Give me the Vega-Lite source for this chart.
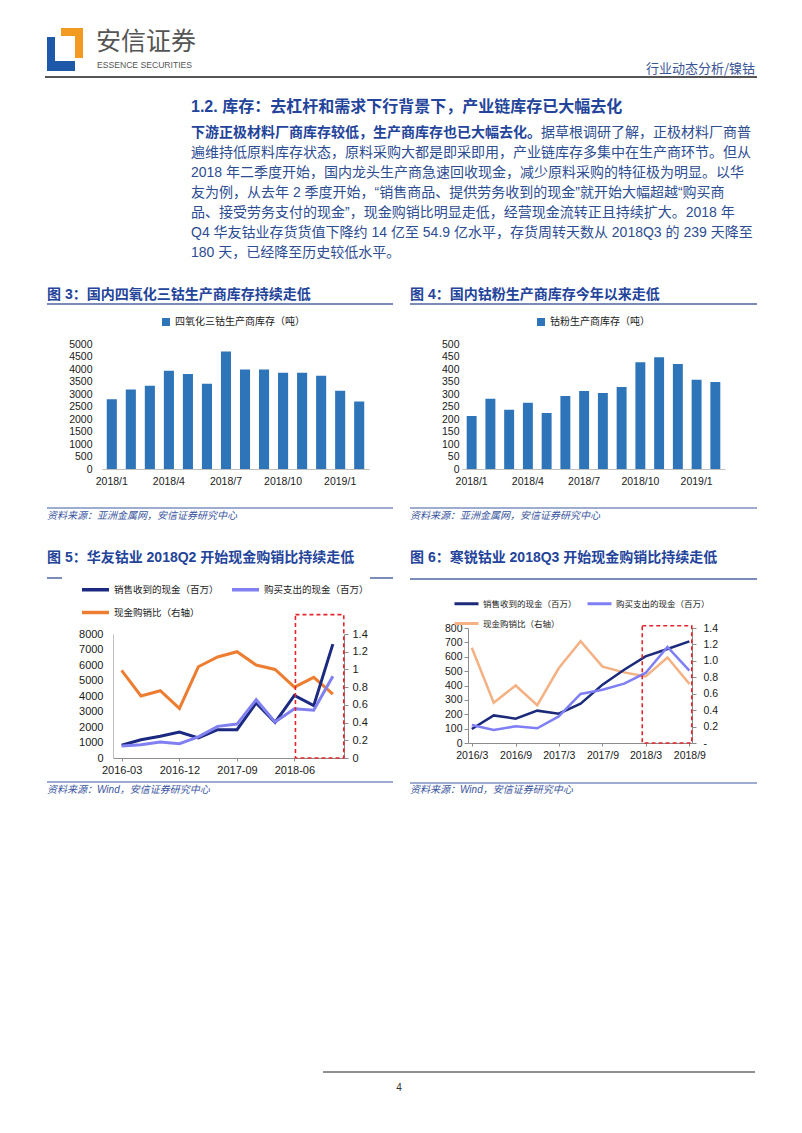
{
  "$schema": "https://vega.github.io/schema/vega-lite/v6.json",
  "width": 802,
  "height": 1133,
  "padding": 0,
  "autosize": {"type": "none"},
  "background": "white",
  "config": {
    "view": {"stroke": null},
    "font": "Liberation Sans, Noto Sans CJK SC",
    "axis": {"grid": false, "labelFont": "Liberation Sans", "labelColor": "#1a1a1a", "labelFontSize": 10.5, "domainColor": "#a6a6a6", "tickColor": "#a6a6a6"},
    "legend": {"labelFont": "Noto Sans CJK SC", "labelColor": "#1a1a1a", "padding": 0}
  },
  "layer": [
    {"data": {"values": [{}]}, "mark": {"type": "rect", "color": "#f39a22"}, "encoding": {"x": {"value": 61}, "x2": {"value": 83}, "y": {"value": 28}, "y2": {"value": 36}}},
    {"data": {"values": [{}]}, "mark": {"type": "rect", "color": "#f39a22"}, "encoding": {"x": {"value": 75}, "x2": {"value": 83}, "y": {"value": 28}, "y2": {"value": 58}}},
    {"data": {"values": [{}]}, "mark": {"type": "rect", "color": "#1d59a8"}, "encoding": {"x": {"value": 47}, "x2": {"value": 55}, "y": {"value": 37}, "y2": {"value": 71}}},
    {"data": {"values": [{}]}, "mark": {"type": "rect", "color": "#1d59a8"}, "encoding": {"x": {"value": 47}, "x2": {"value": 75}, "y": {"value": 61}, "y2": {"value": 71}}},
    {"data": {"values": [{}]}, "mark": {"type": "text", "align": "left", "baseline": "middle", "font": "Noto Sans CJK SC", "fontSize": 25, "color": "#555555"}, "encoding": {"x": {"value": 96}, "y": {"value": 42}, "text": {"value": "安信证券"}}},
    {"data": {"values": [{}]}, "mark": {"type": "text", "align": "left", "baseline": "middle", "font": "Liberation Sans", "fontSize": 8.6, "color": "#555555"}, "encoding": {"x": {"value": 97}, "y": {"value": 65}, "text": {"value": "ESSENCE SECURITIES"}}},
    {"data": {"values": [{}]}, "mark": {"type": "text", "align": "right", "baseline": "middle", "font": "Noto Sans CJK SC", "fontSize": 13, "color": "#3a5596"}, "encoding": {"x": {"value": 755}, "y": {"value": 69}, "text": {"value": "行业动态分析/镍钴"}}},
    {"data": {"values": [{}]}, "mark": {"type": "rule", "color": "#555555", "strokeWidth": 2}, "encoding": {"x": {"value": 45}, "x2": {"value": 757}, "y": {"value": 77}}},
    {"data": {"values": [{}]}, "mark": {"type": "text", "align": "left", "baseline": "middle", "fontSize": 16, "fontWeight": "bold", "color": "#23449a"}, "encoding": {"x": {"value": 191}, "y": {"value": 107}, "text": {"value": "1.2. 库存：去杠杆和需求下行背景下，产业链库存已大幅去化"}}},
    {
      "data": {"values": [
        {"line": 0, "part": "lead", "text": "下游正极材料厂商库存较低，生产商库存也已大幅去化。"},
        {"line": 0, "part": "tail", "text": "据草根调研了解，正极材料厂商普"},
        {"line": 1, "part": "body", "text": "遍维持低原料库存状态，原料采购大都是即采即用，产业链库存多集中在生产商环节。但从"},
        {"line": 2, "part": "body", "text": "2018 年二季度开始，国内龙头生产商急速回收现金，减少原料采购的特征极为明显。以华"},
        {"line": 3, "part": "body", "text": "友为例，从去年 2 季度开始，“销售商品、提供劳务收到的现金”就开始大幅超越“购买商"},
        {"line": 4, "part": "body", "text": "品、接受劳务支付的现金”，现金购销比明显走低，经营现金流转正且持续扩大。2018 年"},
        {"line": 5, "part": "body", "text": "Q4 华友钴业存货货值下降约 14 亿至 54.9 亿水平，存货周转天数从 2018Q3 的 239 天降至"},
        {"line": 6, "part": "body", "text": "180 天，已经降至历史较低水平。"}
      ]},
      "encoding": {
        "y": {"field": "line", "type": "ordinal", "axis": null, "scale": {"type": "point", "range": [133, 253], "padding": 0}},
        "text": {"field": "text"}
      },
      "layer": [
        {"transform": [{"filter": "datum.part == 'lead'"}], "mark": {"type": "text", "align": "left", "baseline": "middle", "fontSize": 14, "fontWeight": "bold", "color": "#23449a", "x": 191}},
        {"transform": [{"filter": "datum.part == 'tail'"}], "mark": {"type": "text", "align": "left", "baseline": "middle", "fontSize": 14, "color": "#2d4d92", "x": 541}},
        {"transform": [{"filter": "datum.part == 'body'"}], "mark": {"type": "text", "align": "left", "baseline": "middle", "fontSize": 14, "color": "#2d4d92", "x": 191}}
      ]
    },
    {"data": {"values": [{}]}, "mark": {"type": "text", "align": "left", "baseline": "middle", "fontSize": 14, "fontWeight": "bold", "color": "#23449a"}, "encoding": {"x": {"value": 47}, "y": {"value": 295}, "text": {"value": "图 3：国内四氧化三钴生产商库存持续走低"}}},
    {"data": {"values": [{}]}, "mark": {"type": "rule", "color": "#4f64a3", "strokeWidth": 1.5}, "encoding": {"x": {"value": 47}, "x2": {"value": 393}, "y": {"value": 304}}},
    {"data": {"values": [{}]}, "mark": {"type": "text", "align": "left", "baseline": "middle", "fontSize": 14, "fontWeight": "bold", "color": "#23449a"}, "encoding": {"x": {"value": 410}, "y": {"value": 295}, "text": {"value": "图 4：国内钴粉生产商库存今年以来走低"}}},
    {"data": {"values": [{}]}, "mark": {"type": "rule", "color": "#4f64a3", "strokeWidth": 1.5}, "encoding": {"x": {"value": 410}, "x2": {"value": 757}, "y": {"value": 304}}},
    {"data": {"values": [{}]}, "mark": {"type": "rule", "color": "#3f5aa3", "strokeWidth": 1.2}, "encoding": {"x": {"value": 47}, "x2": {"value": 393}, "y": {"value": 508}}},
    {"data": {"values": [{}]}, "mark": {"type": "rule", "color": "#3f5aa3", "strokeWidth": 1.2}, "encoding": {"x": {"value": 410}, "x2": {"value": 757}, "y": {"value": 508}}},
    {"data": {"values": [{}]}, "mark": {"type": "text", "align": "left", "baseline": "middle", "font": "Noto Sans CJK SC", "fontSize": 10, "fontStyle": "italic", "color": "#3a55a0"}, "encoding": {"x": {"value": 47}, "y": {"value": 516}, "text": {"value": "资料来源：亚洲金属网，安信证券研究中心"}}},
    {"data": {"values": [{}]}, "mark": {"type": "text", "align": "left", "baseline": "middle", "font": "Noto Sans CJK SC", "fontSize": 10, "fontStyle": "italic", "color": "#3a55a0"}, "encoding": {"x": {"value": 410}, "y": {"value": 516}, "text": {"value": "资料来源：亚洲金属网，安信证券研究中心"}}},
    {"data": {"values": [{}]}, "mark": {"type": "text", "align": "left", "baseline": "middle", "fontSize": 14, "fontWeight": "bold", "color": "#23449a"}, "encoding": {"x": {"value": 47}, "y": {"value": 558}, "text": {"value": "图 5：华友钴业 2018Q2 开始现金购销比持续走低"}}},
    {"data": {"values": [{}]}, "mark": {"type": "text", "align": "left", "baseline": "middle", "fontSize": 14, "fontWeight": "bold", "color": "#23449a"}, "encoding": {"x": {"value": 410}, "y": {"value": 558}, "text": {"value": "图 6：寒锐钴业 2018Q3 开始现金购销比持续走低"}}},
    {"data": {"values": [{}]}, "mark": {"type": "rule", "color": "#4f64a3", "strokeWidth": 1.5}, "encoding": {"x": {"value": 47}, "x2": {"value": 62}, "y": {"value": 578}}},
    {"data": {"values": [{}]}, "mark": {"type": "rule", "color": "#4f64a3", "strokeWidth": 1.5}, "encoding": {"x": {"value": 370}, "x2": {"value": 393}, "y": {"value": 578}}},
    {"data": {"values": [{}]}, "mark": {"type": "rule", "color": "#4f64a3", "strokeWidth": 1.5}, "encoding": {"x": {"value": 410}, "x2": {"value": 757}, "y": {"value": 579}}},
    {"data": {"values": [{}]}, "mark": {"type": "rule", "color": "#3f5aa3", "strokeWidth": 1.2}, "encoding": {"x": {"value": 47}, "x2": {"value": 393}, "y": {"value": 782}}},
    {"data": {"values": [{}]}, "mark": {"type": "rule", "color": "#3f5aa3", "strokeWidth": 1.2}, "encoding": {"x": {"value": 410}, "x2": {"value": 757}, "y": {"value": 783}}},
    {"data": {"values": [{}]}, "mark": {"type": "text", "align": "left", "baseline": "middle", "fontSize": 10, "fontStyle": "italic", "color": "#3a55a0"}, "encoding": {"x": {"value": 47}, "y": {"value": 790}, "text": {"value": "资料来源：Wind，安信证券研究中心"}}},
    {"data": {"values": [{}]}, "mark": {"type": "text", "align": "left", "baseline": "middle", "fontSize": 10, "fontStyle": "italic", "color": "#3a55a0"}, "encoding": {"x": {"value": 410}, "y": {"value": 790}, "text": {"value": "资料来源：Wind，安信证券研究中心"}}},
    {"data": {"values": [{}]}, "mark": {"type": "rule", "color": "#222222", "strokeWidth": 1}, "encoding": {"x": {"value": 323}, "x2": {"value": 755}, "y": {"value": 1072}}},
    {"data": {"values": [{}]}, "mark": {"type": "text", "align": "center", "baseline": "middle", "fontSize": 10, "color": "#333333"}, "encoding": {"x": {"value": 399}, "y": {"value": 1088}, "text": {"value": "4"}}},
    {
      "data": {"values": [
        {"month": "2018/1", "series": "四氧化三钴生产商库存（吨）", "value": 2790},
        {"month": "2018/2", "series": "四氧化三钴生产商库存（吨）", "value": 3180},
        {"month": "2018/3", "series": "四氧化三钴生产商库存（吨）", "value": 3330},
        {"month": "2018/4", "series": "四氧化三钴生产商库存（吨）", "value": 3930},
        {"month": "2018/5", "series": "四氧化三钴生产商库存（吨）", "value": 3800},
        {"month": "2018/6", "series": "四氧化三钴生产商库存（吨）", "value": 3410},
        {"month": "2018/7", "series": "四氧化三钴生产商库存（吨）", "value": 4700},
        {"month": "2018/8", "series": "四氧化三钴生产商库存（吨）", "value": 3980},
        {"month": "2018/9", "series": "四氧化三钴生产商库存（吨）", "value": 3980},
        {"month": "2018/10", "series": "四氧化三钴生产商库存（吨）", "value": 3850},
        {"month": "2018/11", "series": "四氧化三钴生产商库存（吨）", "value": 3850},
        {"month": "2018/12", "series": "四氧化三钴生产商库存（吨）", "value": 3730},
        {"month": "2019/1", "series": "四氧化三钴生产商库存（吨）", "value": 3130},
        {"month": "2019/2", "series": "四氧化三钴生产商库存（吨）", "value": 2700}
      ]},
      "mark": {"type": "bar"},
      "encoding": {
        "x": {"field": "month", "type": "nominal", "sort": null, "title": null, "scale": {"range": [102, 369], "paddingInner": 0.47, "paddingOuter": 0.25}, "axis": {"orient": "bottom", "offset": -664, "values": ["2018/1", "2018/4", "2018/7", "2018/10", "2019/1"], "labelAngle": 0, "ticks": false, "labelPadding": 7, "domainColor": "#bfbfbf"}},
        "y": {"field": "value", "type": "quantitative", "title": null, "scale": {"domain": [0, 5000], "nice": false, "range": [469, 344]}, "axis": {"orient": "left", "offset": -102, "values": [0, 500, 1000, 1500, 2000, 2500, 3000, 3500, 4000, 4500, 5000], "format": "d", "domain": false, "ticks": false, "labelPadding": 10}},
        "color": {"field": "series", "type": "nominal", "scale": {"range": ["#2e74b8"]}, "legend": {"orient": "none", "legendX": 161, "legendY": 317, "title": null, "symbolType": "square", "symbolSize": 64, "labelFontSize": 10}}
      }
    },
    {
      "data": {"values": [
        {"month": "2018/1", "series": "钴粉生产商库存（吨）", "value": 212},
        {"month": "2018/2", "series": "钴粉生产商库存（吨）", "value": 281},
        {"month": "2018/3", "series": "钴粉生产商库存（吨）", "value": 237},
        {"month": "2018/4", "series": "钴粉生产商库存（吨）", "value": 265},
        {"month": "2018/5", "series": "钴粉生产商库存（吨）", "value": 224},
        {"month": "2018/6", "series": "钴粉生产商库存（吨）", "value": 292},
        {"month": "2018/7", "series": "钴粉生产商库存（吨）", "value": 312},
        {"month": "2018/8", "series": "钴粉生产商库存（吨）", "value": 304},
        {"month": "2018/9", "series": "钴粉生产商库存（吨）", "value": 328},
        {"month": "2018/10", "series": "钴粉生产商库存（吨）", "value": 427},
        {"month": "2018/11", "series": "钴粉生产商库存（吨）", "value": 447},
        {"month": "2018/12", "series": "钴粉生产商库存（吨）", "value": 420},
        {"month": "2019/1", "series": "钴粉生产商库存（吨）", "value": 357},
        {"month": "2019/2", "series": "钴粉生产商库存（吨）", "value": 348}
      ]},
      "mark": {"type": "bar"},
      "encoding": {
        "x": {"field": "month", "type": "nominal", "sort": null, "title": null, "scale": {"range": [462, 725], "paddingInner": 0.47, "paddingOuter": 0.25}, "axis": {"orient": "bottom", "offset": -664, "values": ["2018/1", "2018/4", "2018/7", "2018/10", "2019/1"], "labelAngle": 0, "ticks": false, "labelPadding": 7, "domainColor": "#bfbfbf"}},
        "y": {"field": "value", "type": "quantitative", "title": null, "scale": {"domain": [0, 500], "nice": false, "range": [469, 344]}, "axis": {"orient": "left", "offset": -462, "values": [0, 50, 100, 150, 200, 250, 300, 350, 400, 450, 500], "format": "d", "domain": false, "ticks": false, "labelPadding": 3}},
        "color": {"field": "series", "type": "nominal", "scale": {"range": ["#2e74b8"]}, "legend": {"orient": "none", "legendX": 536, "legendY": 317, "title": null, "symbolType": "square", "symbolSize": 64, "labelFontSize": 10}}
      }
    },
    {
      "data": {"values": [
        {"date": "2016-03-15", "series": "销售收到的现金（百万）", "value": 820},
        {"date": "2016-06-15", "series": "销售收到的现金（百万）", "value": 1180},
        {"date": "2016-09-15", "series": "销售收到的现金（百万）", "value": 1400},
        {"date": "2016-12-15", "series": "销售收到的现金（百万）", "value": 1680},
        {"date": "2017-03-15", "series": "销售收到的现金（百万）", "value": 1290},
        {"date": "2017-06-15", "series": "销售收到的现金（百万）", "value": 1830},
        {"date": "2017-09-15", "series": "销售收到的现金（百万）", "value": 1830},
        {"date": "2017-12-15", "series": "销售收到的现金（百万）", "value": 3550},
        {"date": "2018-03-15", "series": "销售收到的现金（百万）", "value": 2300},
        {"date": "2018-06-15", "series": "销售收到的现金（百万）", "value": 4040},
        {"date": "2018-09-15", "series": "销售收到的现金（百万）", "value": 3380},
        {"date": "2018-12-15", "series": "销售收到的现金（百万）", "value": 7350},
        {"date": "2016-03-15", "series": "购买支出的现金（百万）", "value": 780},
        {"date": "2016-06-15", "series": "购买支出的现金（百万）", "value": 860},
        {"date": "2016-09-15", "series": "购买支出的现金（百万）", "value": 1030},
        {"date": "2016-12-15", "series": "购买支出的现金（百万）", "value": 920},
        {"date": "2017-03-15", "series": "购买支出的现金（百万）", "value": 1360},
        {"date": "2017-06-15", "series": "购买支出的现金（百万）", "value": 2040},
        {"date": "2017-09-15", "series": "购买支出的现金（百万）", "value": 2190},
        {"date": "2017-12-15", "series": "购买支出的现金（百万）", "value": 3760},
        {"date": "2018-03-15", "series": "购买支出的现金（百万）", "value": 2320},
        {"date": "2018-06-15", "series": "购买支出的现金（百万）", "value": 3180},
        {"date": "2018-09-15", "series": "购买支出的现金（百万）", "value": 3080},
        {"date": "2018-12-15", "series": "购买支出的现金（百万）", "value": 5270},
        {"date": "2016-03-15", "series": "现金购销比（右轴）", "value": 0.99},
        {"date": "2016-06-15", "series": "现金购销比（右轴）", "value": 0.70},
        {"date": "2016-09-15", "series": "现金购销比（右轴）", "value": 0.76},
        {"date": "2016-12-15", "series": "现金购销比（右轴）", "value": 0.56},
        {"date": "2017-03-15", "series": "现金购销比（右轴）", "value": 1.03},
        {"date": "2017-06-15", "series": "现金购销比（右轴）", "value": 1.14},
        {"date": "2017-09-15", "series": "现金购销比（右轴）", "value": 1.20},
        {"date": "2017-12-15", "series": "现金购销比（右轴）", "value": 1.05},
        {"date": "2018-03-15", "series": "现金购销比（右轴）", "value": 1.00},
        {"date": "2018-06-15", "series": "现金购销比（右轴）", "value": 0.80},
        {"date": "2018-09-15", "series": "现金购销比（右轴）", "value": 0.91},
        {"date": "2018-12-15", "series": "现金购销比（右轴）", "value": 0.72}
      ]},
      "encoding": {
        "x": {"field": "date", "type": "temporal", "title": null,
          "scale": {"domain": [{"year": 2016, "month": 2, "date": 3}, {"year": 2019, "month": 2, "date": 6}], "range": [113, 344]},
          "axis": {"orient": "bottom", "offset": -375, "values": [{"year": 2016, "month": 3, "date": 15}, {"year": 2016, "month": 12, "date": 15}, {"year": 2017, "month": 9, "date": 15}, {"year": 2018, "month": 6, "date": 15}], "format": "%Y-%m", "labelFontSize": 11, "tickSize": 3, "labelPadding": 3, "domainColor": "#8c8c8c", "tickColor": "#8c8c8c", "labelAngle": 0}}
      },
      "layer": [
        {
          "transform": [{"filter": "datum.series == '现金购销比（右轴）'"}],
          "mark": {"type": "line", "strokeWidth": 3},
          "encoding": {
            "y": {"field": "value", "type": "quantitative", "title": null, "scale": {"domain": [0, 1.4], "nice": false, "range": [758, 634]}, "axis": {"orient": "right", "offset": -458, "values": [0, 0.2, 0.4, 0.6, 0.8, 1, 1.2, 1.4], "format": "~g", "labelFontSize": 11, "tickSize": 4, "labelPadding": 4, "domainColor": "#8c8c8c", "tickColor": "#8c8c8c"}},
            "color": {"field": "series", "type": "nominal", "scale": {"domain": ["销售收到的现金（百万）", "购买支出的现金（百万）", "现金购销比（右轴）"], "range": ["#1b2a80", "#8080f0", "#ed7d31"]}, "legend": {"orient": "none", "direction": "horizontal", "legendX": 80, "legendY": 574, "title": null, "columns": 2, "columnPadding": 6, "rowPadding": -6, "symbolType": "stroke", "symbolSize": 729, "symbolStrokeWidth": 3.5, "labelFontSize": 9.5, "labelOffset": 3}}
          }
        },
        {
          "layer": [
            {
              "transform": [{"filter": "datum.series != '现金购销比（右轴）'"}],
              "mark": {"type": "line", "strokeWidth": 3},
              "encoding": {
                "y": {"field": "value", "type": "quantitative", "title": null, "scale": {"domain": [0, 8000], "nice": false, "range": [758, 634]}, "axis": {"orient": "left", "offset": -113, "values": [0, 1000, 2000, 3000, 4000, 5000, 6000, 7000, 8000], "format": "d", "labelFontSize": 11, "ticks": false, "labelPadding": 10, "domainColor": "#bfbfbf"}},
                "color": {"field": "series", "type": "nominal", "scale": {"domain": ["销售收到的现金（百万）", "购买支出的现金（百万）", "现金购销比（右轴）"], "range": ["#1b2a80", "#8080f0", "#ed7d31"]}, "legend": {"orient": "none", "direction": "horizontal", "legendX": 80, "legendY": 574, "title": null, "columns": 2, "columnPadding": 6, "rowPadding": -6, "symbolType": "stroke", "symbolSize": 729, "symbolStrokeWidth": 3.5, "labelFontSize": 9.5, "labelOffset": 3}}
              }
            },
            {
              "data": {"values": [{"start": "2018-06-20", "end": "2019-02-05", "low": 0, "high": 9250}]},
              "mark": {"type": "rect", "filled": false, "stroke": "#e3262d", "strokeWidth": 1.6, "strokeDash": [4, 3]},
              "encoding": {
                "x": {"field": "start", "type": "temporal", "title": null, "scale": {"domain": [{"year": 2016, "month": 2, "date": 3}, {"year": 2019, "month": 2, "date": 6}], "range": [113, 344]}},
                "x2": {"field": "end"},
                "y": {"field": "low", "type": "quantitative", "title": null, "scale": {"domain": [0, 8000], "nice": false, "range": [758, 634]}},
                "y2": {"field": "high"}
              }
            }
          ]
        }
      ],
      "resolve": {"scale": {"y": "independent"}}
    },
    {
      "data": {"values": [
        {"date": "2016-03-15", "series": "销售收到的现金（百万）", "value": 97},
        {"date": "2016-06-15", "series": "销售收到的现金（百万）", "value": 192},
        {"date": "2016-09-15", "series": "销售收到的现金（百万）", "value": 169},
        {"date": "2016-12-15", "series": "销售收到的现金（百万）", "value": 225},
        {"date": "2017-03-15", "series": "销售收到的现金（百万）", "value": 204},
        {"date": "2017-06-15", "series": "销售收到的现金（百万）", "value": 274},
        {"date": "2017-09-15", "series": "销售收到的现金（百万）", "value": 406},
        {"date": "2017-12-15", "series": "销售收到的现金（百万）", "value": 510},
        {"date": "2018-03-15", "series": "销售收到的现金（百万）", "value": 603},
        {"date": "2018-06-15", "series": "销售收到的现金（百万）", "value": 654},
        {"date": "2018-09-15", "series": "销售收到的现金（百万）", "value": 707},
        {"date": "2016-03-15", "series": "购买支出的现金（百万）", "value": 125},
        {"date": "2016-06-15", "series": "购买支出的现金（百万）", "value": 90},
        {"date": "2016-09-15", "series": "购买支出的现金（百万）", "value": 116},
        {"date": "2016-12-15", "series": "购买支出的现金（百万）", "value": 102},
        {"date": "2017-03-15", "series": "购买支出的现金（百万）", "value": 185},
        {"date": "2017-06-15", "series": "购买支出的现金（百万）", "value": 341},
        {"date": "2017-09-15", "series": "购买支出的现金（百万）", "value": 371},
        {"date": "2017-12-15", "series": "购买支出的现金（百万）", "value": 413},
        {"date": "2018-03-15", "series": "购买支出的现金（百万）", "value": 487},
        {"date": "2018-06-15", "series": "购买支出的现金（百万）", "value": 668},
        {"date": "2018-09-15", "series": "购买支出的现金（百万）", "value": 503},
        {"date": "2016-03-15", "series": "现金购销比（右轴）", "value": 1.16},
        {"date": "2016-06-15", "series": "现金购销比（右轴）", "value": 0.49},
        {"date": "2016-09-15", "series": "现金购销比（右轴）", "value": 0.70},
        {"date": "2016-12-15", "series": "现金购销比（右轴）", "value": 0.46},
        {"date": "2017-03-15", "series": "现金购销比（右轴）", "value": 0.91},
        {"date": "2017-06-15", "series": "现金购销比（右轴）", "value": 1.24},
        {"date": "2017-09-15", "series": "现金购销比（右轴）", "value": 0.93},
        {"date": "2017-12-15", "series": "现金购销比（右轴）", "value": 0.86},
        {"date": "2018-03-15", "series": "现金购销比（右轴）", "value": 0.81},
        {"date": "2018-06-15", "series": "现金购销比（右轴）", "value": 1.04},
        {"date": "2018-09-15", "series": "现金购销比（右轴）", "value": 0.72}
      ]},
      "encoding": {
        "x": {"field": "date", "type": "temporal", "title": null,
          "scale": {"domain": [{"year": 2016, "month": 2, "date": 28}, {"year": 2018, "month": 9, "date": 26}], "range": [468, 692]},
          "axis": {"orient": "bottom", "offset": -390, "values": [{"year": 2016, "month": 3, "date": 15}, {"year": 2016, "month": 9, "date": 15}, {"year": 2017, "month": 3, "date": 15}, {"year": 2017, "month": 9, "date": 15}, {"year": 2018, "month": 3, "date": 15}, {"year": 2018, "month": 9, "date": 15}], "format": "%Y/%-m", "labelFontSize": 10.5, "tickSize": 3, "labelPadding": 4, "domainColor": "#8c8c8c", "tickColor": "#8c8c8c", "labelAngle": 0}}
      },
      "layer": [
        {
          "transform": [{"filter": "datum.series == '现金购销比（右轴）'"}],
          "mark": {"type": "line", "strokeWidth": 2.5},
          "encoding": {
            "y": {"field": "value", "type": "quantitative", "title": null, "scale": {"domain": [0, 1.4], "nice": false, "range": [743, 628]}, "axis": {"orient": "right", "offset": -110, "values": [0, 0.2, 0.4, 0.6, 0.8, 1, 1.2, 1.4], "labelExpr": "datum.value == 0 ? '-' : format(datum.value, '.1f')", "labelFontSize": 10.5, "tickSize": 4, "labelPadding": 7, "domainColor": "#8c8c8c", "tickColor": "#8c8c8c"}},
            "color": {"field": "series", "type": "nominal", "scale": {"domain": ["销售收到的现金（百万）", "购买支出的现金（百万）", "现金购销比（右轴）"], "range": ["#1b2a7a", "#7f7ff5", "#f4b183"]}, "legend": {"orient": "none", "direction": "horizontal", "legendX": 453, "legendY": 590, "title": null, "columns": 2, "columnPadding": 4, "rowPadding": -17, "symbolType": "stroke", "symbolSize": 576, "symbolStrokeWidth": 3, "labelFontSize": 8.5, "labelOffset": 3}}
          }
        },
        {
          "layer": [
            {
              "transform": [{"filter": "datum.series != '现金购销比（右轴）'"}],
              "mark": {"type": "line", "strokeWidth": 2.5},
              "encoding": {
                "y": {"field": "value", "type": "quantitative", "title": null, "scale": {"domain": [0, 800], "nice": false, "range": [743, 628]}, "axis": {"orient": "left", "offset": -468, "values": [0, 100, 200, 300, 400, 500, 600, 700, 800], "format": "d", "labelFontSize": 10.5, "tickSize": 4, "labelPadding": 2, "domainColor": "#8c8c8c", "tickColor": "#8c8c8c"}},
                "color": {"field": "series", "type": "nominal", "scale": {"domain": ["销售收到的现金（百万）", "购买支出的现金（百万）", "现金购销比（右轴）"], "range": ["#1b2a7a", "#7f7ff5", "#f4b183"]}, "legend": {"orient": "none", "direction": "horizontal", "legendX": 453, "legendY": 590, "title": null, "columns": 2, "columnPadding": 4, "rowPadding": -17, "symbolType": "stroke", "symbolSize": 576, "symbolStrokeWidth": 3, "labelFontSize": 8.5, "labelOffset": 3}}
              }
            },
            {
              "data": {"values": [{"start": "2018-03-01", "end": "2018-09-25", "low": 0, "high": 816}]},
              "mark": {"type": "rect", "filled": false, "stroke": "#e3262d", "strokeWidth": 1.6, "strokeDash": [4, 3]},
              "encoding": {
                "x": {"field": "start", "type": "temporal", "title": null, "scale": {"domain": [{"year": 2016, "month": 2, "date": 28}, {"year": 2018, "month": 9, "date": 26}], "range": [468, 692]}},
                "x2": {"field": "end"},
                "y": {"field": "low", "type": "quantitative", "title": null, "scale": {"domain": [0, 800], "nice": false, "range": [743, 628]}},
                "y2": {"field": "high"}
              }
            }
          ]
        }
      ],
      "resolve": {"scale": {"y": "independent"}}
    }
  ],
  "resolve": {"scale": {"x": "independent", "y": "independent", "color": "independent"}}
}
